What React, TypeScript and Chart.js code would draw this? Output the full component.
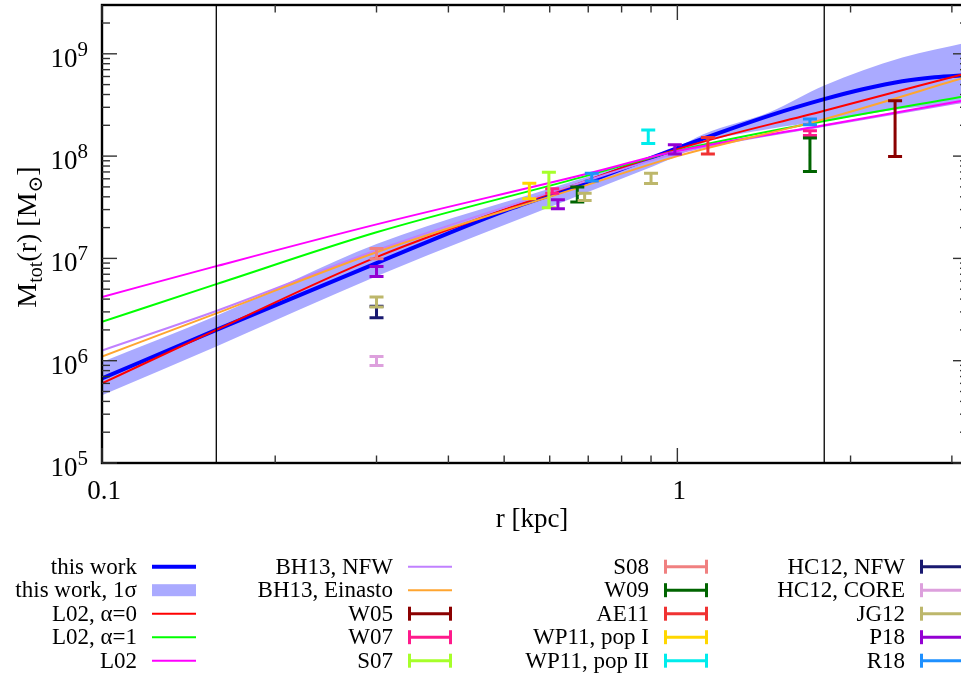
import React, { useEffect, useRef } from "react";
import { Chart, registerables } from "chart.js";

Chart.register(...registerables);

// ---------- data ----------
const X_MIN = 0.1;
const X_MAX = 3.2;
const Y_MIN = 1e5;
const Y_MAX = 3e9;

// "this work" best fit
const rThisWork = [0.1, 0.158, 0.3, 0.5, 0.68, 1.0, 1.45, 1.8, 2.1, 2.46, 2.8, 3.2];
const mThisWork = [6.7e5, 2.0e6, 9.0e6, 2.9e7, 5.3e7, 1.2e8, 2.5e8, 3.6e8, 4.5e8, 5.4e8, 5.9e8, 6.2e8];

// 1 sigma band
const rBand = [0.1, 0.158, 0.3, 0.68, 1.0, 1.11, 1.45, 1.8, 2.46, 3.2];
const bandUpper = [9.7e5, 2.75e6, 1.38e7, 6.0e7, 1.23e8, 1.64e8, 2.7e8, 4.9e8, 9.2e8, 1.3e9];
const bandLower = [4.6e5, 1.38e6, 6.7e6, 4.2e7, 1.0e8, 1.34e8, 1.85e8, 2.2e8, 2.9e8, 3.35e8];

// model curves
const rModel = [0.1, 0.158, 0.3, 0.68, 1.0, 1.8, 3.2];
const mL02a0 = [6.0e5, 2.0e6, 1.03e7, 5.5e7, 1.17e8, 2.78e8, 6.5e8];
const mL02a1 = [2.4e6, 5.6e6, 1.8e7, 6.2e7, 1.13e8, 2.2e8, 3.9e8];
const mL02 = [4.2e6, 8.4e6, 2.15e7, 6.5e7, 1.12e8, 2.0e8, 3.55e8];
const mBH13NFW = [1.26e6, 3.06e6, 1.2e7, 5.5e7, 1.07e8, 1.98e8, 3.45e8];
const mBH13Ein = [1.1e6, 2.9e6, 1.15e7, 5.0e7, 1.0e8, 2.3e8, 6.0e8];

// literature error bars: [r (kpc), lower, upper]
const errW05 = [[2.39, 9.9e7, 3.48e8]];
const errW07 = [[0.606, 4.33e7, 4.8e7], [1.7, 1.59e8, 1.77e8]];
const errS07 = [[0.598, 3.13e7, 6.95e7]];
const errS08 = [[0.3, 9.9e6, 1.25e7]];
const errW09 = [[0.67, 3.55e7, 4.98e7], [1.7, 7.06e7, 1.5e8]];
const errAE11 = [[1.13, 1.05e8, 1.52e8]];
const errWP11I = [[0.553, 3.82e7, 5.43e7]];
const errWP11II = [[0.89, 1.33e8, 1.8e8]];
const errHC12NFW = [[0.3, 2.63e6, 3.4e6]];
const errHC12CORE = [[0.3, 9.0e5, 1.1e6]];
const errJG12 = [[0.3, 3.34e6, 4.19e6], [0.69, 3.68e7, 4.33e7], [0.9, 5.4e7, 6.8e7]];
const errP18 = [[0.3, 6.67e6, 8.35e6], [0.62, 3.05e7, 3.74e7], [0.99, 1.05e8, 1.29e8]];
const errR18 = [[0.71, 5.7e7, 6.8e7], [1.7, 2.03e8, 2.3e8]];

// vertical reference lines (kpc)
const vLines = [0.158, 1.8];

// ticks
const xMajorTicks = [0.1, 1];
const xTickLabels = ["0.1", "1"];
const xMinorTicks = [0.2, 0.3, 0.4, 0.5, 0.6, 0.7, 0.8, 0.9, 2, 3];
const yMajorExps = [5, 6, 7, 8, 9];

// ---------- layout / style ----------
const W = 980;
const H = 675;
const AREA = { left: 102, right: 968, top: 5, bottom: 463 };
const SERIF = '"Liberation Serif", "Times New Roman", "DejaVu Serif", serif';

const pts = (rs: number[], ms: number[]) => rs.map((r, i) => ({ x: r, y: ms[i] }));
const errPts = (rows: number[][]) =>
  rows.map(([r, lo, hi]) => ({ x: r, y: Math.sqrt(lo * hi), yMin: lo, yMax: hi }));

function curve(label: string, rs: number[], ms: number[], color: string, width: number, order: number) {
  return {
    label,
    data: pts(rs, ms),
    borderColor: color,
    backgroundColor: color,
    borderWidth: width,
    pointRadius: 0,
    fill: false,
    cubicInterpolationMode: "monotone",
    order,
    legendKind: "line",
  };
}

function errSet(label: string, rows: number[][], color: string) {
  return {
    label,
    data: errPts(rows),
    borderColor: color,
    backgroundColor: color,
    showLine: false,
    pointRadius: 0,
    order: 0,
    legendKind: "err",
  };
}

function buildDatasets(): any[] {
  return [
    curve("this work", rThisWork, mThisWork, "#0000ff", 4, 20),
    {
      label: "this work, 1σ",
      data: pts(rBand, bandUpper),
      borderColor: "#aaaaff",
      backgroundColor: "#aaaaff",
      borderWidth: 0,
      pointRadius: 0,
      fill: "+1",
      cubicInterpolationMode: "monotone",
      order: 100,
      legendKind: "band",
    },
    {
      label: "_lower",
      data: pts(rBand, bandLower),
      borderColor: "#aaaaff",
      backgroundColor: "#aaaaff",
      borderWidth: 0,
      pointRadius: 0,
      fill: false,
      cubicInterpolationMode: "monotone",
      order: 101,
      legendKind: "none",
    },
    curve("L02, α=0", rModel, mL02a0, "#ff0000", 2, 19),
    curve("L02, α=1", rModel, mL02a1, "#00ff00", 2, 18),
    curve("L02", rModel, mL02, "#ff00ff", 2, 16),
    curve("BH13, NFW", rModel, mBH13NFW, "#c080ff", 2, 17),
    curve("BH13, Einasto", rModel, mBH13Ein, "#ffa530", 2, 15),
    errSet("W05", errW05, "#8b0000"),
    errSet("W07", errW07, "#ff1a8c"),
    errSet("S07", errS07, "#a6ff2a"),
    errSet("S08", errS08, "#f08080"),
    errSet("W09", errW09, "#006400"),
    errSet("AE11", errAE11, "#f03232"),
    errSet("WP11, pop I", errWP11I, "#ffd700"),
    errSet("WP11, pop II", errWP11II, "#00ecec"),
    errSet("HC12, NFW", errHC12NFW, "#191970"),
    errSet("HC12, CORE", errHC12CORE, "#dda0dd"),
    errSet("JG12", errJG12, "#bdb76b"),
    errSet("P18", errP18, "#9400d3"),
    errSet("R18", errR18, "#1e90ff"),
  ];
}

function drawErrorBar(ctx: CanvasRenderingContext2D, px: number, pLo: number, pHi: number, half: number) {
  ctx.beginPath();
  ctx.moveTo(px, pLo);
  ctx.lineTo(px, pHi);
  ctx.moveTo(px - half, pLo);
  ctx.lineTo(px + half, pLo);
  ctx.moveTo(px - half, pHi);
  ctx.lineTo(px + half, pHi);
  ctx.stroke();
}

const decorPlugin = {
  id: "decor",
  afterDatasetsDraw(chart: any) {
    const { ctx, chartArea: a } = chart;
    const xs = chart.scales.x;
    const ys = chart.scales.y;
    ctx.save();
    ctx.beginPath();
    ctx.rect(a.left, a.top, a.right - a.left, a.bottom - a.top);
    ctx.clip();
    // vertical reference lines
    ctx.strokeStyle = "#000";
    ctx.lineWidth = 1.3;
    for (const r of vLines) {
      const px = xs.getPixelForValue(r);
      ctx.beginPath();
      ctx.moveTo(px, a.top);
      ctx.lineTo(px, a.bottom);
      ctx.stroke();
    }
    // error bars
    chart.data.datasets.forEach((ds: any) => {
      if (ds.legendKind !== "err") return;
      ctx.strokeStyle = ds.borderColor;
      ctx.lineWidth = 3;
      ctx.lineCap = "butt";
      ds.data.forEach((p: any) => {
        const px = xs.getPixelForValue(p.x);
        drawErrorBar(ctx, px, ys.getPixelForValue(p.yMin), ys.getPixelForValue(p.yMax), 7);
        const pc = ys.getPixelForValue(p.y);
        ctx.fillStyle = ds.borderColor;
        ctx.fillRect(px - 1, pc - 1, 2, 2);
      });
    });
    ctx.restore();
  },
  afterDraw(chart: any) {
    const { ctx, chartArea: a } = chart;
    const xs = chart.scales.x;
    const ys = chart.scales.y;
    ctx.save();

    // frame
    ctx.strokeStyle = "#000";
    ctx.lineWidth = 2.4;
    ctx.strokeRect(a.left, a.top, a.right - a.left, a.bottom - a.top);

    // ticks
    ctx.strokeStyle = "#333";
    ctx.lineWidth = 1.4;
    const tick = (x1: number, y1: number, x2: number, y2: number) => {
      ctx.beginPath();
      ctx.moveTo(x1, y1);
      ctx.lineTo(x2, y2);
      ctx.stroke();
    };
    for (const e of yMajorExps) {
      const py = ys.getPixelForValue(Math.pow(10, e));
      tick(a.left, py, a.left + 15, py);
      tick(a.right, py, a.right - 15, py);
      for (let k = 2; k <= 9; k++) {
        const v = k * Math.pow(10, e);
        if (v >= Y_MAX) break;
        const pm = ys.getPixelForValue(v);
        tick(a.left, pm, a.left + 8, pm);
        tick(a.right, pm, a.right - 8, pm);
      }
    }
    for (const v of xMajorTicks) {
      const px = xs.getPixelForValue(v);
      tick(px, a.bottom, px, a.bottom - 15);
      tick(px, a.top, px, a.top + 15);
    }
    for (const v of xMinorTicks) {
      const px = xs.getPixelForValue(v);
      tick(px, a.bottom, px, a.bottom - 7.5);
      tick(px, a.top, px, a.top + 7.5);
    }

    // tick labels
    ctx.fillStyle = "#000";
    ctx.textBaseline = "alphabetic";
    ctx.textAlign = "center";
    ctx.font = `27px ${SERIF}`;
    xMajorTicks.forEach((v, i) => {
      ctx.fillText(xTickLabels[i], xs.getPixelForValue(v) + 2, a.bottom + 36);
    });
    for (const e of yMajorExps) {
      const py = ys.getPixelForValue(Math.pow(10, e));
      const xr = 88;
      ctx.textAlign = "right";
      ctx.font = `21px ${SERIF}`;
      const sw = ctx.measureText(String(e)).width;
      ctx.fillText(String(e), xr, py + 2);
      ctx.font = `27px ${SERIF}`;
      ctx.fillText("10", xr - sw, py + 13);
    }

    // x title
    ctx.textAlign = "center";
    ctx.font = `27px ${SERIF}`;
    ctx.fillText("r [kpc]", 532, 527);

    // y title with subscripts
    const segs = [
      { t: "M", s: 28, dy: 0 },
      { t: "tot", s: 20, dy: 6 },
      { t: "(r) [M", s: 28, dy: 0 },
      { t: "\u2299", s: 20, dy: 6 },
      { t: "]", s: 28, dy: 0 },
    ];
    let total = 0;
    for (const sg of segs) {
      ctx.font = `${sg.s}px ${SERIF}`;
      total += ctx.measureText(sg.t).width;
    }
    ctx.save();
    ctx.translate(36, 237);
    ctx.rotate(-Math.PI / 2);
    ctx.textAlign = "left";
    let cx = -total / 2;
    for (const sg of segs) {
      ctx.font = `${sg.s}px ${SERIF}`;
      ctx.fillText(sg.t, cx, sg.dy);
      cx += ctx.measureText(sg.t).width;
    }
    ctx.restore();

    // legend
    const items = chart.data.datasets.filter((d: any) => d.legendKind !== "none");
    const colRight = [137, 393, 649, 905];
    const rowY0 = 566.7;
    const rowDy = 23.5;
    ctx.font = `23px ${SERIF}`;
    items.forEach((d: any, i: number) => {
      const col = Math.floor(i / 5);
      const row = i % 5;
      const tx = colRight[col];
      const cy = rowY0 + row * rowDy;
      ctx.fillStyle = "#000";
      ctx.textAlign = "right";
      ctx.fillText(d.label, tx, cy + 7);
      const x0 = tx + 15;
      const x1 = tx + 59;
      if (d.legendKind === "line") {
        ctx.strokeStyle = d.borderColor;
        ctx.lineWidth = d.borderWidth;
        tick(x0, cy, x1, cy);
      } else if (d.legendKind === "band") {
        ctx.fillStyle = d.backgroundColor;
        ctx.fillRect(x0, cy - 6, x1 - x0, 12);
      } else if (d.legendKind === "err") {
        ctx.strokeStyle = d.borderColor;
        ctx.lineWidth = 3;
        tick(x0, cy, x1, cy);
        tick(x0 + 1.5, cy - 7, x0 + 1.5, cy + 7);
        tick(x1 - 1.5, cy - 7, x1 - 1.5, cy + 7);
      }
    });

    ctx.restore();
  },
};

export default function App() {
  const ref = useRef<HTMLCanvasElement>(null);
  useEffect(() => {
    const canvas = ref.current;
    if (!canvas) return;
    const prev = document.body.style.overflow;
    document.body.style.overflow = "hidden";
    const chart = new Chart(canvas, {
      type: "line",
      data: { datasets: buildDatasets() },
      options: {
        animation: false,
        responsive: false,
        maintainAspectRatio: false,
        devicePixelRatio: 1,
        layout: {
          padding: {
            left: AREA.left,
            right: W - AREA.right,
            top: AREA.top,
            bottom: H - AREA.bottom,
          },
        },
        scales: {
          x: { type: "logarithmic", min: X_MIN, max: X_MAX, display: false },
          y: { type: "logarithmic", min: Y_MIN, max: Y_MAX, display: false },
        },
        plugins: {
          legend: { display: false },
          tooltip: { enabled: false },
          title: { display: false },
        },
        events: [],
      } as any,
      plugins: [decorPlugin as any],
    });
    return () => {
      chart.destroy();
      document.body.style.overflow = prev;
    };
  }, []);
  return (
    <div
      style={{
        position: "fixed",
        left: 0,
        top: 0,
        width: W,
        height: H,
        overflow: "hidden",
        background: "#fff",
      }}
    >
      <canvas ref={ref} width={W} height={H} style={{ width: W, height: H, display: "block" }} />
    </div>
  );
}
